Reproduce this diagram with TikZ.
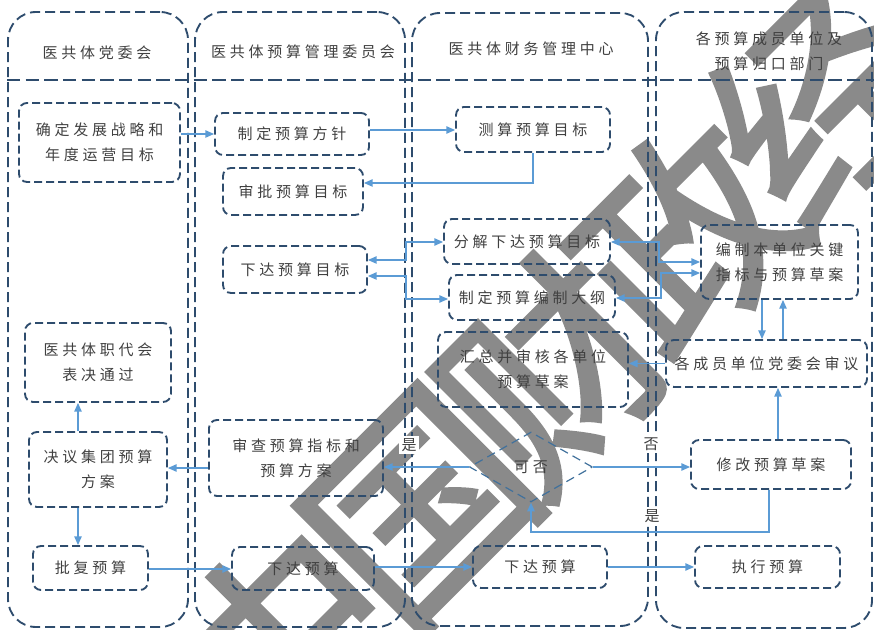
\documentclass[tikz,border=0pt]{standalone}
\usepackage{fontspec}
\newfontfamily\cjk{Noto Sans CJK SC}[LetterSpace=25]
\newfontfamily\wmfont{Noto Sans CJK SC}[FakeBold=2,LetterSpace=-11]
\usetikzlibrary{arrows.meta,shapes.geometric,fit,calc}
\definecolor{lanec}{RGB}{46,76,109}
\definecolor{arrc}{RGB}{91,155,213}
\definecolor{diac}{RGB}{65,113,156}
\definecolor{txtc}{RGB}{64,64,64}
\definecolor{wmc}{RGB}{138,138,138}
\newcommand\mytxtfont{\cjk\fontsize{11.25pt}{18.75pt}\selectfont}
% box: name, x1, y1, x2, y2, style, text
\newcommand\mybx[7]{\node[#6, minimum width={(#4-#2)*0.75pt}, minimum height={(#5-#3)*0.75pt}] (#1) at ({(#2+#4)/2},{(#3+#5)/2}) {#7};}
\begin{document}
\begin{tikzpicture}[x=0.75pt,y=-0.75pt,
  lane/.style={draw=lanec, line width=1.4pt, dash pattern=on 7.5pt off 3.75pt, rounded corners=21pt, inner sep=0pt},
  hdr/.style={draw=lanec, line width=2.2pt, dash pattern=on 10pt off 4pt},
  box/.style={draw=lanec, line width=1.4pt, dash pattern=on 6pt off 3pt, rounded corners=6pt, inner sep=0pt, align=center, text=txtc, font=\mytxtfont},
  head/.style={align=center, text=txtc, font=\mytxtfont, inner sep=0pt},
  lbl/.style={fill=white, text=txtc, font=\mytxtfont, inner sep=2pt},
  dia/.style={diamond, draw=diac, line width=0.9pt, dash pattern=on 6.5pt off 4pt, inner sep=0pt, minimum width=92.25pt, minimum height=52.5pt, text=txtc, font=\mytxtfont},
  arr/.style={draw=arrc, line width=1pt, -{Triangle[length=6.5pt,width=5.5pt]}},
  darr/.style={draw=arrc, line width=1pt, {Triangle[length=6.5pt,width=5.5pt]}-{Triangle[length=6.5pt,width=5.5pt]}}
]
\useasboundingbox (0,0) rectangle (874,630);
% watermark (behind everything)
\node[rotate=45, text=wmc, inner sep=0pt, font=\wmfont\fontsize{160pt}{160pt}\selectfont] (wm) at (552,372) {中国财政经};

% swimlanes
\mybx{l1}{8}{12}{188}{627}{lane}{}
\mybx{l2}{195}{12}{405}{627}{lane}{}
\mybx{l3}{412}{13}{648}{626}{lane}{}
\mybx{l4}{656}{12}{872}{628}{lane}{}
\draw[hdr] (l1.west |- 0,80) -- (874,80);

\node[head] (h1) at (97,53) {医共体党委会};
\node[head] (h2) at (303,52) {医共体预算管理委员会};
\node[head] (h3) at (531,49) {医共体财务管理中心};
\node[head] (h4) at (769,51) {各预算成员单位及\\预算归口部门};

% lane 1
\mybx{b1}{19}{103}{180}{182}{box}{确定发展战略和\\年度运营目标}
\mybx{b2}{25}{323}{171}{402}{box}{医共体职代会\\表决通过}
\mybx{b3}{29}{432}{167}{507}{box}{决议集团预算\\方案}
\mybx{b4}{33}{546}{148}{590}{box}{批复预算}
% lane 2
\mybx{c1}{215}{113}{369}{155}{box}{制定预算方针}
\mybx{c2}{223}{168}{363}{215}{box}{审批预算目标}
\mybx{c3}{223}{246}{367}{293}{box}{下达预算目标}
\mybx{c4}{209}{420}{383}{496}{box}{审查预算指标和\\预算方案}
\mybx{c5}{232}{547}{374}{590}{box}{下达预算}
% lane 3
\mybx{d1}{456}{107}{610}{152}{box}{测算预算目标}
\mybx{d2}{444}{219}{610}{264}{box}{分解下达预算目标}
\mybx{d3}{449}{275}{615}{320}{box}{制定预算编制大纲}
\mybx{d4}{438}{332}{628}{407}{box}{汇总并审核各单位\\预算草案}
\node[dia] (dq) at (531,467) {可否};
\mybx{d5}{473}{546}{607}{588}{box}{下达预算}
% lane 4
\mybx{e1}{701}{225}{858}{299}{box}{编制本单位关键\\指标与预算草案}
\mybx{e2}{666}{340}{867}{387}{box}{各成员单位党委会审议}
\mybx{e3}{691}{440}{851}{489}{box}{修改预算草案}
\mybx{e4}{695}{546}{840}{588}{box}{执行预算}

% connectors
\draw[arr] (b1.east |- c1.west) -- (c1.west);
\draw[arr] (c1.east |- 0,130) -- (d1.west |- 0,130);
\draw[arr] (d1.south) |- (c2.east |- 0,183);
\draw[darr] (c3.east |- 0,260) -- (406,260) |- (d2.west |- 0,242);
\draw[darr] (c3.east |- 0,276) -- (406,276) |- (d3.west |- 0,299);
\draw[darr] (d2.east |- 0,242) -- (659,242) |- (e1.west |- 0,262);
\draw[darr] (d3.east |- 0,298) -- (661,298) |- (e1.west |- 0,273);
\draw[arr] (e1.south -| 762,0) -- (e2.north -| 762,0);
\draw[arr] (e2.north -| 783,0) -- (e1.south -| 783,0);
\draw[arr] (e2.west) -- (d4.east |- e2.west);
\draw[arr] (e3.north -| 778,0) -- (e2.south -| 778,0);
\draw[arr] (dq.west) -- (c4.east |- dq.west);
\draw[arr] (dq.east) -- (e3.west |- dq.east);
\draw[arr] (e3.south -| 769,0) -- (769,532) -| (dq.south);
\draw[arr] (c4.west |- 0,468) -- (b3.east |- 0,468);
\draw[arr] (b3.north -| 78,0) -- (b2.south -| 78,0);
\draw[arr] (b3.south -| 78,0) -- (b4.north -| 78,0);
\draw[arr] (b4.east |- 0,569) -- (c5.west |- 0,569);
\draw[arr] (c5.east |- 0,567) -- (d5.west |- 0,567);
\draw[arr] (d5.east |- 0,567) -- (e4.west |- 0,567);

% labels
\node[lbl] (y1) at (409,445) {是};
\node[lbl] (n1) at (651,444) {否};
\node[lbl] (y2) at (652,516) {是};
\end{tikzpicture}
\end{document}
